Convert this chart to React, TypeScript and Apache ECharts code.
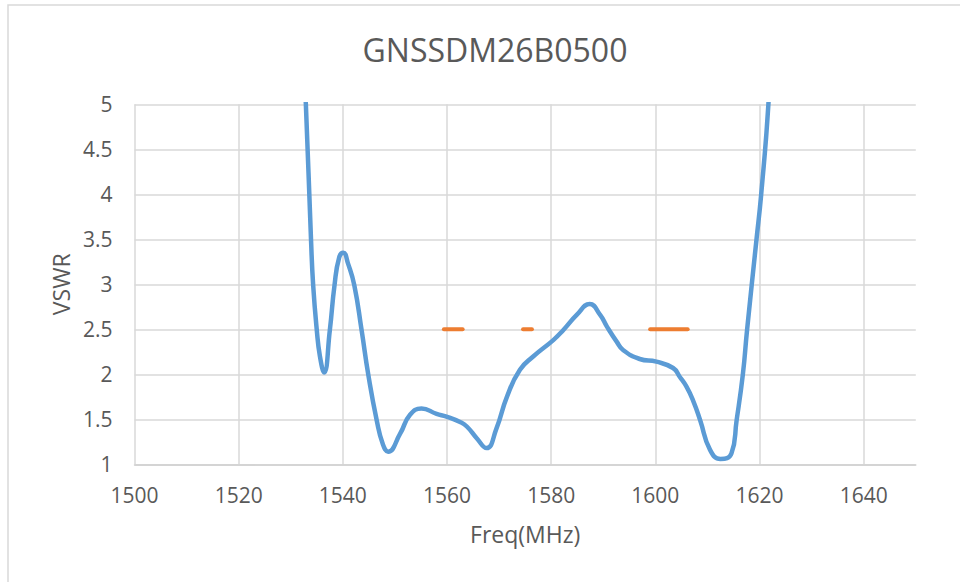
import React, { useEffect, useRef } from "react";
import * as echarts from "echarts";

const titleText = "GNSSDM26B0500";
const xName = "Freq(MHz)";
const yName = "VSWR";

const freqMHz = [
  1531.8, 1532.9, 1533.9, 1534.3, 1535.0, 1535.6, 1536.4, 1537.5, 1538.4, 1539.3,
  1540.1, 1541.0, 1542.2, 1543.6, 1544.9, 1546.5, 1547.7, 1548.7, 1551.0, 1552.9,
  1555.1, 1558.0, 1559.9, 1562.5, 1563.8, 1565.7, 1567.6, 1569.5, 1571.5, 1574.0,
  1576.6, 1580.4, 1582.3, 1584.9, 1587.4, 1589.4, 1590.7, 1592.6, 1593.8, 1597.0,
  1600.2, 1603.4, 1604.7, 1606.0, 1607.3, 1608.6, 1610.5, 1612.5, 1614.6, 1615.6,
  1616.8, 1617.6, 1619.4, 1620.3, 1621.7, 1622.6,
];
const vswr = [
  6.4, 5.0, 3.48, 2.99, 2.49, 2.2, 2.02, 2.49, 2.99, 3.3,
  3.35, 3.23, 2.99, 2.49, 1.99, 1.49, 1.22, 1.14, 1.34, 1.55,
  1.62, 1.56, 1.53, 1.47, 1.42, 1.29, 1.18, 1.4, 1.75, 2.05,
  2.2, 2.38, 2.49, 2.66, 2.78, 2.66, 2.53, 2.36, 2.27, 2.17,
  2.14, 2.07, 1.97, 1.86, 1.7, 1.49, 1.16, 1.06, 1.12, 1.49,
  2.0, 2.49, 3.49, 3.99, 5.0, 6.1,
];

const bandStart = [1559.4, 1574.6, 1599.0];
const bandEnd = [1563.0, 1576.3, 1606.2];
const bandLevel = 2.5;

const xMin = 1500;
const xMax = 1650;
const xStep = 20;
const yMin = 1;
const yMax = 5;
const yStep = 0.5;

const FONT = "Open Sans";
const TEXT_COLOR = "#595959";
const GRID_COLOR = "#d9d9d9";

export default function App() {
  const ref = useRef<HTMLDivElement>(null);

  useEffect(() => {
    if (!ref.current) return;
    const chart = echarts.init(ref.current, undefined, { renderer: "svg" });

    const curve = freqMHz.map((f, i) => [f, vswr[i]]);
    const bandSeries = bandStart.map((s, i) => ({
      type: "line",
      data: [
        [s, bandLevel],
        [bandEnd[i], bandLevel],
      ],
      symbol: "none",
      lineStyle: { color: "#ED7D31", width: 4, cap: "round" },
      z: 3,
    }));

    chart.setOption({
      animation: false,
      backgroundColor: "#ffffff",
      textStyle: { fontFamily: FONT },
      title: {
        text: titleText,
        left: 490,
        top: 28,
        textAlign: "center",
        textStyle: {
          fontFamily: FONT,
          fontSize: 32,
          fontWeight: "normal",
          color: TEXT_COLOR,
        },
      },
      graphic: [
        {
          type: "rect",
          shape: { x: 8, y: 5, width: 1000, height: 700 },
          style: { fill: "none", stroke: GRID_COLOR, lineWidth: 1.5 },
          silent: true,
          z: -1,
        },
      ],
      grid: { left: 134.5, top: 104.3, right: 44.2, bottom: 117.7 },
      xAxis: {
        type: "value",
        min: xMin,
        max: xMax,
        interval: xStep,
        name: xName,
        nameLocation: "middle",
        nameGap: 58,
        nameTextStyle: { fontFamily: FONT, fontSize: 23, color: TEXT_COLOR },
        axisLine: { show: true, lineStyle: { color: "#d0d0d0", width: 1.5 } },
        axisTick: { show: false },
        axisLabel: {
          fontFamily: FONT,
          fontSize: 21,
          color: TEXT_COLOR,
          margin: 20,
          showMaxLabel: false,
          formatter: (v: number) => String(v),
        },
        splitLine: {
          show: true,
          showMaxLine: false,
          lineStyle: { color: GRID_COLOR, width: 1.5 },
        },
      },
      yAxis: {
        type: "value",
        min: yMin,
        max: yMax,
        interval: yStep,
        name: yName,
        nameLocation: "middle",
        nameGap: 62,
        nameTextStyle: { fontFamily: FONT, fontSize: 23, color: TEXT_COLOR },
        axisLine: { show: false },
        axisTick: { show: false },
        axisLabel: {
          fontFamily: FONT,
          fontSize: 21,
          color: TEXT_COLOR,
          margin: 22,
          formatter: (v: number) => String(v),
        },
        splitLine: { show: true, lineStyle: { color: GRID_COLOR, width: 1.5 } },
      },
      series: [
        {
          type: "line",
          data: curve,
          smooth: 0.5,
          symbol: "none",
          clip: true,
          lineStyle: { color: "#5B9BD5", width: 4.5 },
          z: 4,
        },
        ...bandSeries,
      ],
    });

    return () => chart.dispose();
  }, []);

  return (
    <div
      ref={ref}
      style={{ position: "fixed", left: 0, top: 0, width: 960, height: 582 }}
    />
  );
}
